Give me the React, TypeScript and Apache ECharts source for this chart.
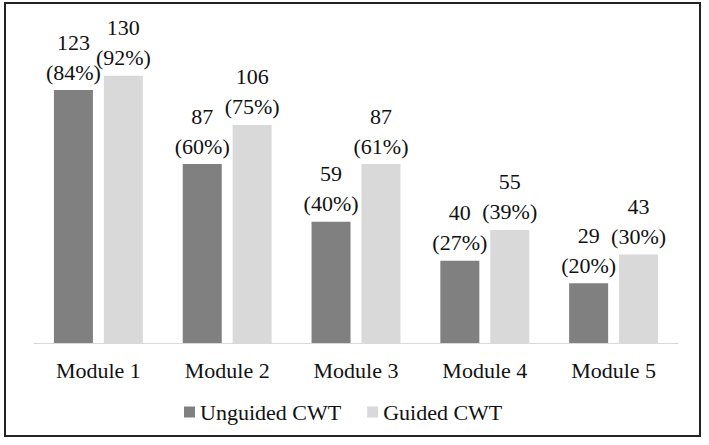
import React, { useEffect, useRef } from "react";
import * as echarts from "echarts";

const categories = ["Module 1", "Module 2", "Module 3", "Module 4", "Module 5"];
const unguidedValues = [123, 87, 59, 40, 29];
const unguidedPercents = [84, 60, 40, 27, 20];
const guidedValues = [130, 106, 87, 55, 43];
const guidedPercents = [92, 75, 61, 39, 30];

const FONT = "Liberation Serif, Times New Roman, serif";

export default function App() {
  const ref = useRef<HTMLDivElement>(null);
  useEffect(() => {
    if (!ref.current) return;
    const chart = echarts.init(ref.current, null, { renderer: "svg" });
    const mkLabel = (pcts: number[]) => ({
      show: true,
      position: "top",
      distance: 3,
      fontFamily: FONT,
      fontSize: 22,
      lineHeight: 30,
      color: "#111",
      formatter: (p: any) => `${p.value}\n(${pcts[p.dataIndex]}%)`,
    });
    chart.setOption({
      animation: false,
      textStyle: { fontFamily: FONT },
      graphic: [
        {
          type: "rect",
          shape: { x: 5, y: 3, width: 695, height: 433 },
          style: { fill: "none", stroke: "#222", lineWidth: 2 },
          silent: true,
        },
      ],
      grid: { left: 34, right: 31, top: 34.5, bottom: 102, containLabel: false },
      legend: {
        left: 179,
        top: 396,
        itemWidth: 11,
        itemHeight: 11,
        itemGap: 26,
        icon: "rect",
        textStyle: { fontFamily: FONT, fontSize: 22, color: "#111", padding: [0, 0, 0, 0] },
        data: ["Unguided CWT", "Guided CWT"],
      },
      xAxis: {
        type: "category",
        data: categories,
        axisLine: { show: true, lineStyle: { color: "#d9d9d9", width: 1 } },
        axisTick: { show: false },
        axisLabel: { fontFamily: FONT, fontSize: 22, color: "#111", margin: 16 },
      },
      yAxis: {
        type: "value",
        min: 0,
        max: 150,
        show: false,
        splitLine: { show: false },
      },
      series: [
        {
          name: "Unguided CWT",
          type: "bar",
          data: unguidedValues,
          barWidth: 39,
          barGap: "28%",
          itemStyle: { color: "#808080" },
          label: mkLabel(unguidedPercents),
        },
        {
          name: "Guided CWT",
          type: "bar",
          data: guidedValues,
          barWidth: 39,
          itemStyle: { color: "#d9d9d9" },
          label: mkLabel(guidedPercents),
        },
      ],
    });
    return () => chart.dispose();
  }, []);
  return (
    <div
      ref={ref}
      style={{ position: "absolute", left: 0, top: 0, width: 709, height: 445, background: "#fff" }}
    />
  );
}
